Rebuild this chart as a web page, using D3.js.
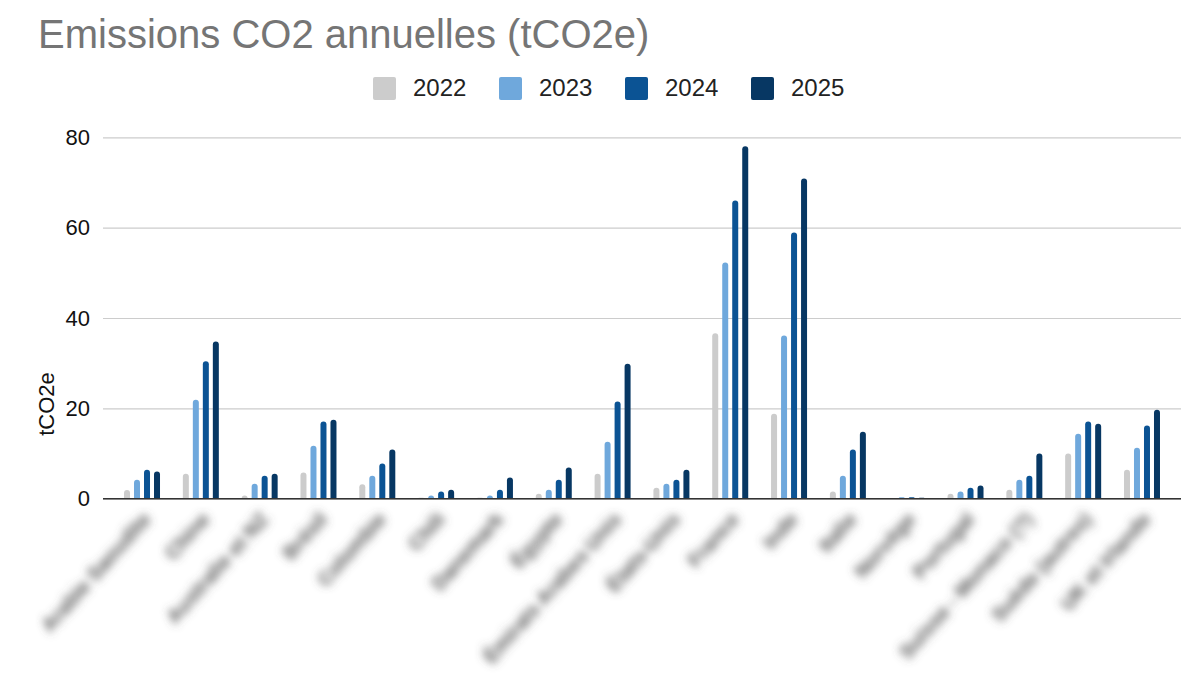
<!DOCTYPE html>
<html>
<head>
<meta charset="utf-8">
<script src="https://cdn.jsdelivr.net/npm/d3@7"></script>
<style>
  body { margin: 0; background: #fff; }
  svg { display: block; font-family: Arial, "Liberation Sans", sans-serif; }
</style>
</head>
<body>
<svg id="chart" width="1196" height="696"></svg>
<script>
// data
const countries = ["Arabie Saoudite", "Chine", "Australie et NZ", "Brésil", "Colombie", "Chili",
  "Danemark", "Égypte", "Émirats Arabes Unis", "États-Unis", "France", "Inde", "Italie",
  "Norvège", "Portugal", "Suisse - Monaco (?)", "Suède (autres)", "UK et Irlande"]
const years = ["2022", "2023", "2024", "2025"]
const v2022 = [1.9, 5.5, 0.7, 5.8, 3.2, 0.2, 0.2, 1.1, 5.5, 2.4, 36.6, 18.8, 1.6, 0, 1.1, 2.0, 10.0, 6.4]
const v2023 = [4.2, 21.9, 3.3, 11.7, 5.1, 0.7, 0.7, 2.0, 12.6, 3.3, 52.3, 36.1, 5.1, 0.3, 1.6, 4.2, 14.4, 11.3]
const v2024 = [6.4, 30.4, 5.1, 17.1, 7.8, 1.6, 2.0, 4.2, 21.5, 4.2, 66.0, 58.9, 10.9, 0.3, 2.4, 5.1, 17.1, 16.2]
const v2025 = [6.0, 34.8, 5.5, 17.5, 10.9, 2.0, 4.7, 6.9, 29.9, 6.4, 78.0, 70.9, 14.8, 0.2, 2.9, 10.0, 16.6, 19.7]
const yTicks = [0, 20, 40, 60, 80]
const colors = ["#cccccc", "#6fa8dc", "#0b5394", "#073763"]

const series = [v2022, v2023, v2024, v2025]
const svg = d3.select("#chart")

// blur for the category labels
svg.append("defs").append("filter")
    .attr("id", "blur")
    .attr("x", "-20%").attr("y", "-50%").attr("width", "140%").attr("height", "200%")
    .append("feGaussianBlur")
    .attr("stdDeviation", 4)

let x0 = d3.scaleBand().domain(countries).range([112.6, 1171.4])
let x1 = d3.scaleBand().domain(years)
    .range([x0.bandwidth() / 2 - 20, x0.bandwidth() / 2 + 20])
    .paddingInner(0.4).paddingOuter(0.2)
let y = d3.scaleLinear().domain([0, 80]).range([498.7, 137.3])
let color = d3.scaleOrdinal().domain(years).range(colors)

// title
svg.append("text")
    .attr("x", 38).attr("y", 48)
    .attr("fill", "#757575")
    .style("font-size", "40px")
    .text("Emissions CO2 annuelles (tCO2e)")

// legend
let legend = svg.append("g")
    .selectAll("g")
    .data(years)
    .enter()
    .append("g")
    .attr("transform", (d, i) => `translate(${373 + i * 126},77)`)
legend.append("rect")
    .attr("width", 23).attr("height", 23)
    .attr("rx", 2)
    .attr("fill", d => color(d))
legend.append("text")
    .attr("x", 40).attr("y", 19)
    .attr("fill", "#222")
    .style("font-size", "24px")
    .text(d => d)

// gridlines + y labels
let yAxis = svg.append("g")
    .attr("transform", "translate(103,0)")
    .call(d3.axisLeft(y).tickValues(yTicks).tickSize(-1078).tickPadding(13))
yAxis.select(".domain").remove()
yAxis.selectAll(".tick line").attr("stroke", "#cccccc").attr("stroke-width", 1.2)
yAxis.selectAll(".tick text")
    .attr("fill", "#111")
    .style("font-size", "22px")
    .style("font-family", "Arial, 'Liberation Sans', sans-serif")

svg.append("text")
    .attr("transform", "translate(54,404) rotate(-90)")
    .attr("text-anchor", "middle")
    .attr("fill", "#111")
    .style("font-size", "22px")
    .text("tCO2e")

// bars with rounded tops
function barPath(x, w, top, bottom) {
    let h = bottom - top
    let r = Math.min(w / 2, h)
    if (h <= 0) return ""
    return `M${x},${bottom} L${x},${top + r} Q${x},${top} ${x + r},${top} L${x + w - r},${top} Q${x + w},${top} ${x + w},${top + r} L${x + w},${bottom} Z`
}

let groups = svg.append("g")
    .selectAll("g")
    .data(countries)
    .enter()
    .append("g")
    .attr("transform", d => `translate(${x0(d)},0)`)

groups.selectAll("path")
    .data((d, i) => years.map((yr, j) => ({ year: yr, value: series[j][i] })))
    .enter()
    .append("path")
    .attr("fill", d => color(d.year))
    .attr("d", d => barPath(x1(d.year), x1.bandwidth(), y(d.value), y(0)))

// baseline
svg.append("line")
    .attr("x1", 103).attr("x2", 1181)
    .attr("y1", y(0)).attr("y2", y(0))
    .attr("stroke", "#333")
    .attr("stroke-width", 1.6)

// category labels (blurred like the reference)
svg.append("g")
    .attr("filter", "url(#blur)")
    .selectAll("text")
    .data(countries)
    .enter()
    .append("text")
    .attr("transform", d => `translate(${x0(d) + x0.bandwidth() / 2 + 10},520) rotate(-48)`)
    .attr("text-anchor", "end")
    .attr("fill", "#555")
    .style("font-size", "20px")
    .style("font-weight", "bold")
    .text(d => d)
</script>
</body>
</html>
